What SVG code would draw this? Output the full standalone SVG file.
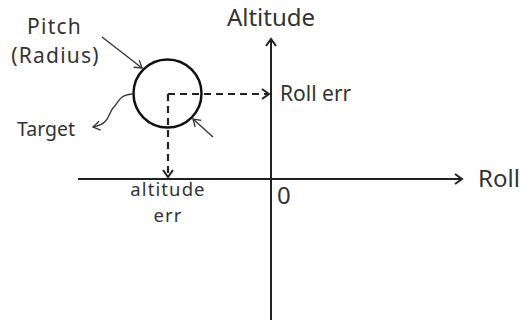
<svg xmlns="http://www.w3.org/2000/svg" width="526" height="320" viewBox="0 0 526 320">
<style>
text{font-family:"Noto Sans","Open Sans",sans-serif;fill:#333}
.ax{stroke:#222;stroke-width:2;fill:none}
.ds{stroke:#222;stroke-width:2.2;fill:none;stroke-dasharray:7,5}
.th{stroke:#333;stroke-width:1.3;fill:none}
</style>
<defs>
<marker id="ch" markerWidth="12" markerHeight="12" refX="10" refY="6" orient="auto" markerUnits="userSpaceOnUse">
<path d="M3,1 L10,6 L3,11" fill="none" stroke="#222" stroke-width="2"/>
</marker>
<marker id="cs" markerWidth="12" markerHeight="12" refX="10" refY="6" orient="auto" markerUnits="userSpaceOnUse">
<path d="M3,1.5 L10,6 L3,10.5" fill="none" stroke="#333" stroke-width="1.3"/>
</marker>
</defs>
<rect width="526" height="320" fill="#fff"/>
<g id="connectors">
<line class="ax" x1="271" y1="320" x2="271" y2="39" marker-end="url(#ch)"/>
<line class="ax" x1="78" y1="179" x2="462" y2="179" marker-end="url(#ch)"/>
<line class="ds" x1="168" y1="94" x2="269" y2="94" marker-end="url(#ch)"/>
<line class="ds" x1="168" y1="94" x2="168" y2="177" marker-end="url(#ch)"/>
<line class="th" x1="102" y1="37" x2="142" y2="68" marker-end="url(#cs)"/>
<line class="th" x1="213" y1="137" x2="193" y2="119" marker-end="url(#cs)"/>
<path class="th" d="M132,94 C118,95 118,104 113,108 C108,114 110,124 93,127" marker-end="url(#cs)"/>
</g>
<g id="target-circle"><circle cx="167.5" cy="93.5" r="34" fill="none" stroke="#111" stroke-width="2.5"/></g>
<g id="labels">
<text x="54.5" y="34" font-size="21" letter-spacing="1.2" text-anchor="middle">Pitch</text>
<text x="55.5" y="63" font-size="21" letter-spacing="1.2" text-anchor="middle">(Radius)</text>
<text x="46" y="136" font-size="19.5" text-anchor="middle">Target</text>
<text x="271" y="26" font-size="24" text-anchor="middle">Altitude</text>
<text x="280" y="101" font-size="21">Roll err</text>
<text x="478" y="187" font-size="24">Roll</text>
<text x="277" y="204" font-size="24">0</text>
<text x="168" y="196" font-size="18.5" letter-spacing="1.1" text-anchor="middle">altitude</text>
<text x="168" y="222" font-size="18.5" letter-spacing="1.1" text-anchor="middle">err</text>
</g>
</svg>
